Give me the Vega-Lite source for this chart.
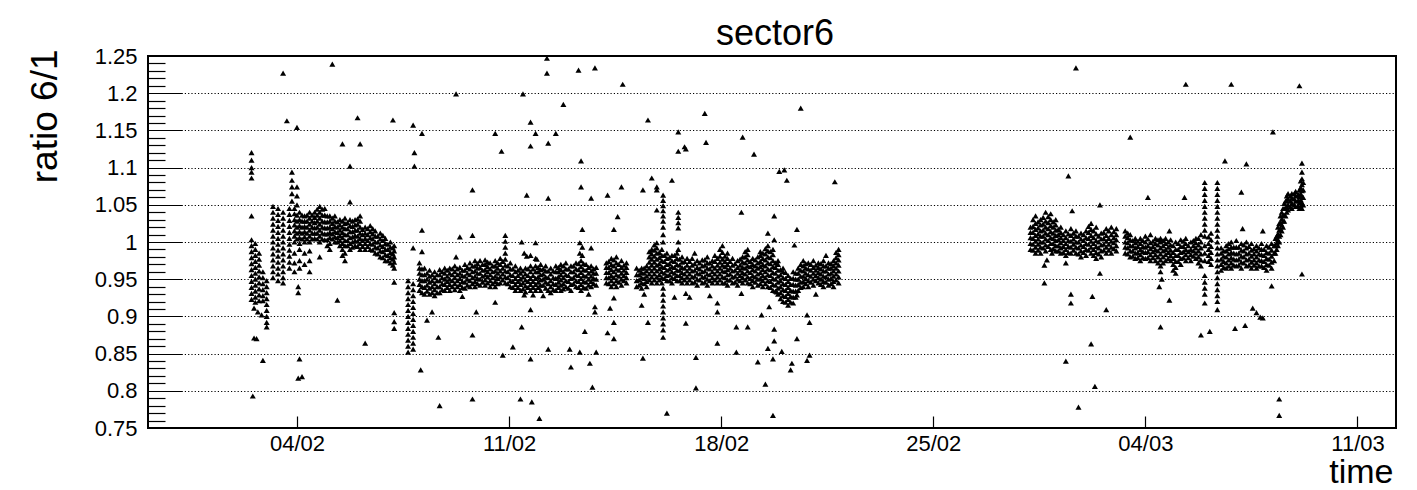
{
"$schema": "https://vega.github.io/schema/vega-lite/v6.json",
"width": 1248, "height": 372,
"autosize": {"type": "none"},
"padding": {"left": 148, "top": 56, "right": 21, "bottom": 62},
"background": "white",
"config": {"view": {"stroke": "black", "strokeWidth": 2}, "font": "Liberation Sans"},
"title": {"text": "sector6", "fontSize": 36, "fontWeight": "normal", "font": "Liberation Sans", "color": "black", "anchor": "middle", "frame": "group", "baseline": "alphabetic", "offset": -36, "dx": 3},
"data": {"format": {"parse": {"t": "date:'%j%H'"}}, "values": [
{"t":"03312","r":1.12},{"t":"03312","r":1.11},{"t":"03312","r":1.1},{"t":"03312","r":1.094},{"t":"03312","r":1.086},{"t":"03312","r":1.035},{"t":"03312","r":1.003},{"t":"03312","r":0.995},{"t":"03312","r":0.987},{"t":"03312","r":0.979},{"t":"03312","r":0.971},{"t":"03312","r":0.963},{"t":"03312","r":0.955},{"t":"03312","r":0.947},{"t":"03312","r":0.939},{"t":"03312","r":0.931},{"t":"03312","r":0.923},
{"t":"03313","r":0.793},{"t":"03314","r":0.911},{"t":"03314","r":0.871},
{"t":"03315","r":0.998},{"t":"03315","r":0.99},{"t":"03315","r":0.982},{"t":"03315","r":0.974},{"t":"03315","r":0.966},{"t":"03315","r":0.958},{"t":"03315","r":0.95},{"t":"03315","r":0.942},{"t":"03315","r":0.934},{"t":"03315","r":0.926},{"t":"03315","r":0.919},
{"t":"03316","r":0.87},{"t":"03317","r":0.906},
{"t":"03318","r":0.985},{"t":"03318","r":0.977},{"t":"03318","r":0.969},{"t":"03318","r":0.961},{"t":"03318","r":0.953},{"t":"03318","r":0.945},{"t":"03318","r":0.937},{"t":"03318","r":0.929},{"t":"03318","r":0.921},
{"t":"03320","r":0.902},
{"t":"03321","r":0.96},{"t":"03321","r":0.952},{"t":"03321","r":0.944},{"t":"03321","r":0.936},{"t":"03321","r":0.928},{"t":"03321","r":0.921},{"t":"03321","r":0.841},
{"t":"03400","r":0.948},{"t":"03400","r":0.94},{"t":"03400","r":0.932},{"t":"03400","r":0.924},{"t":"03400","r":0.916},{"t":"03400","r":0.908},{"t":"03400","r":0.9},{"t":"03400","r":0.892},{"t":"03400","r":0.886},
{"t":"03405","r":1.048},{"t":"03405","r":1.04},{"t":"03405","r":1.032},{"t":"03405","r":1.024},{"t":"03405","r":1.016},{"t":"03405","r":1.008},{"t":"03405","r":1.0},{"t":"03405","r":0.992},{"t":"03405","r":0.984},{"t":"03405","r":0.976},{"t":"03405","r":0.968},{"t":"03405","r":0.96},{"t":"03405","r":0.952},
{"t":"03409","r":1.045},{"t":"03409","r":1.037},{"t":"03409","r":1.029},{"t":"03409","r":1.021},{"t":"03409","r":1.013},{"t":"03409","r":1.005},{"t":"03409","r":0.997},{"t":"03409","r":0.989},{"t":"03409","r":0.981},{"t":"03409","r":0.973},{"t":"03409","r":0.965},{"t":"03409","r":0.957},{"t":"03409","r":0.948},
{"t":"03413","r":1.227},{"t":"03413","r":1.04},{"t":"03413","r":1.032},{"t":"03413","r":1.024},{"t":"03413","r":1.016},{"t":"03413","r":1.008},{"t":"03413","r":1.0},{"t":"03413","r":0.992},{"t":"03413","r":0.984},{"t":"03413","r":0.976},{"t":"03413","r":0.968},{"t":"03413","r":0.96},{"t":"03413","r":0.952},{"t":"03413","r":0.945},
{"t":"03416","r":1.163},
{"t":"03418","r":1.045},{"t":"03418","r":1.037},{"t":"03418","r":1.029},{"t":"03418","r":1.021},{"t":"03418","r":1.013},{"t":"03418","r":1.005},{"t":"03418","r":0.997},{"t":"03418","r":0.989},{"t":"03418","r":0.981},{"t":"03418","r":0.973},{"t":"03418","r":0.965},
{"t":"03420","r":1.094},{"t":"03420","r":1.083},{"t":"03420","r":1.074},{"t":"03420","r":1.065},{"t":"03420","r":1.055},
{"t":"03422","r":1.0},{"t":"03422","r":1.008},{"t":"03422","r":1.015},{"t":"03422","r":1.023},{"t":"03422","r":1.03},{"t":"03422","r":1.038},{"t":"03422","r":1.045},{"t":"03422","r":0.985},{"t":"03422","r":0.972},{"t":"03422","r":0.96},
{"t":"03500","r":1.154},{"t":"03500","r":1.074},{"t":"03500","r":1.062},{"t":"03500","r":1.05},
{"t":"03501","r":0.94},{"t":"03501","r":0.932},{"t":"03501","r":0.817},
{"t":"03502","r":0.99},{"t":"03502","r":0.998},{"t":"03502","r":1.006},{"t":"03502","r":1.014},{"t":"03502","r":1.022},{"t":"03502","r":1.03},{"t":"03502","r":1.04},{"t":"03502","r":0.975},{"t":"03502","r":0.965},{"t":"03502","r":0.843},
{"t":"03504","r":0.819},
{"t":"03506","r":1.0},{"t":"03506","r":1.007},{"t":"03506","r":1.014},{"t":"03506","r":1.021},{"t":"03506","r":1.028},{"t":"03506","r":1.035},{"t":"03506","r":0.985},{"t":"03506","r":0.97},
{"t":"03510","r":1.0},{"t":"03510","r":1.008},{"t":"03510","r":1.016},{"t":"03510","r":1.024},{"t":"03510","r":1.032},{"t":"03510","r":1.04},{"t":"03510","r":0.988},{"t":"03510","r":0.975},{"t":"03510","r":0.96},
{"t":"03514","r":1.005},{"t":"03514","r":1.012},{"t":"03514","r":1.019},{"t":"03514","r":1.026},{"t":"03514","r":1.033},{"t":"03514","r":1.04},
{"t":"03518","r":1.0},{"t":"03518","r":1.008},{"t":"03518","r":1.016},{"t":"03518","r":1.024},{"t":"03518","r":1.032},{"t":"03518","r":1.04},{"t":"03518","r":1.048},{"t":"03518","r":0.98},
{"t":"03522","r":1.003},{"t":"03522","r":1.011},{"t":"03522","r":1.019},{"t":"03522","r":1.027},{"t":"03522","r":1.036},{"t":"03522","r":1.045},
{"t":"03602","r":0.99},{"t":"03602","r":0.998},{"t":"03602","r":1.006},{"t":"03602","r":1.013},{"t":"03602","r":1.02},{"t":"03602","r":1.028},{"t":"03602","r":1.035},
{"t":"03604","r":1.239},
{"t":"03606","r":1.0},{"t":"03606","r":1.007},{"t":"03606","r":1.014},{"t":"03606","r":1.021},{"t":"03606","r":1.028},{"t":"03606","r":1.035},
{"t":"03608","r":0.922},
{"t":"03610","r":0.995},{"t":"03610","r":1.002},{"t":"03610","r":1.009},{"t":"03610","r":1.016},{"t":"03610","r":1.023},{"t":"03610","r":1.03},
{"t":"03612","r":1.132},{"t":"03612","r":0.982},
{"t":"03614","r":0.975},{"t":"03614","r":0.985},{"t":"03614","r":0.995},{"t":"03614","r":1.002},{"t":"03614","r":1.01},{"t":"03614","r":1.018},{"t":"03614","r":1.025},{"t":"03614","r":1.032},
{"t":"03618","r":1.102},{"t":"03618","r":1.054},{"t":"03618","r":0.99},{"t":"03618","r":0.998},{"t":"03618","r":1.006},{"t":"03618","r":1.014},{"t":"03618","r":1.022},{"t":"03618","r":1.03},
{"t":"03622","r":0.995},{"t":"03622","r":1.002},{"t":"03622","r":1.009},{"t":"03622","r":1.016},{"t":"03622","r":1.023},{"t":"03622","r":1.03},
{"t":"03700","r":1.167},
{"t":"03702","r":1.132},{"t":"03702","r":0.99},{"t":"03702","r":0.998},{"t":"03702","r":1.005},{"t":"03702","r":1.012},{"t":"03702","r":1.02},{"t":"03702","r":1.028},{"t":"03702","r":1.035},
{"t":"03706","r":0.864},{"t":"03706","r":0.99},{"t":"03706","r":0.998},{"t":"03706","r":1.005},{"t":"03706","r":1.012},{"t":"03706","r":1.02},
{"t":"03710","r":0.99},{"t":"03710","r":0.998},{"t":"03710","r":1.006},{"t":"03710","r":1.014},{"t":"03710","r":1.022},
{"t":"03714","r":0.985},{"t":"03714","r":0.993},{"t":"03714","r":1.0},{"t":"03714","r":1.008},{"t":"03714","r":1.015},
{"t":"03718","r":0.98},{"t":"03718","r":0.988},{"t":"03718","r":0.996},{"t":"03718","r":1.004},{"t":"03718","r":1.012},
{"t":"03722","r":0.975},{"t":"03722","r":0.983},{"t":"03722","r":0.99},{"t":"03722","r":0.998},{"t":"03722","r":1.005},
{"t":"03802","r":0.972},{"t":"03802","r":0.979},{"t":"03802","r":0.986},{"t":"03802","r":0.993},{"t":"03802","r":1.0},
{"t":"03804","r":1.164},
{"t":"03805","r":0.965},{"t":"03805","r":0.973},{"t":"03805","r":0.98},{"t":"03805","r":0.988},{"t":"03805","r":0.995},{"t":"03805","r":0.946},{"t":"03805","r":0.905},{"t":"03805","r":0.893},{"t":"03805","r":0.884},
{"t":"03816","r":0.948},{"t":"03816","r":0.94},{"t":"03816","r":0.932},{"t":"03816","r":0.924},{"t":"03816","r":0.916},{"t":"03816","r":0.908},{"t":"03816","r":0.9},{"t":"03816","r":0.892},{"t":"03816","r":0.884},{"t":"03816","r":0.876},{"t":"03816","r":0.868},{"t":"03816","r":0.86},{"t":"03816","r":0.852},
{"t":"03820","r":1.157},{"t":"03820","r":0.992},{"t":"03820","r":0.944},{"t":"03820","r":0.936},{"t":"03820","r":0.928},{"t":"03820","r":0.92},{"t":"03820","r":0.912},{"t":"03820","r":0.904},{"t":"03820","r":0.896},{"t":"03820","r":0.888},{"t":"03820","r":0.88},{"t":"03820","r":0.872},{"t":"03820","r":0.864},{"t":"03820","r":0.856},
{"t":"03821","r":1.12},{"t":"03821","r":1.102},
{"t":"03902","r":0.828},{"t":"03903","r":1.146},{"t":"03903","r":1.016},{"t":"03903","r":0.987},{"t":"03907","r":0.895},{"t":"03911","r":0.906},{"t":"03916","r":0.872},{"t":"03917","r":0.78},
{"t":"03901","r":0.935},{"t":"03901","r":0.943},{"t":"03901","r":0.95},{"t":"03901","r":0.958},{"t":"03901","r":0.965},{"t":"03901","r":0.972},
{"t":"03905","r":0.93},{"t":"03905","r":0.939},{"t":"03905","r":0.948},{"t":"03905","r":0.956},{"t":"03905","r":0.965},
{"t":"03909","r":0.93},{"t":"03909","r":0.938},{"t":"03909","r":0.946},{"t":"03909","r":0.954},{"t":"03909","r":0.962},
{"t":"03913","r":0.928},{"t":"03913","r":0.936},{"t":"03913","r":0.944},{"t":"03913","r":0.952},{"t":"03913","r":0.96},
{"t":"03917","r":0.932},{"t":"03917","r":0.94},{"t":"03917","r":0.948},{"t":"03917","r":0.956},{"t":"03917","r":0.963},
{"t":"03921","r":0.935},{"t":"03921","r":0.943},{"t":"03921","r":0.95},{"t":"03921","r":0.958},{"t":"03921","r":0.965},
{"t":"04001","r":0.935},{"t":"04001","r":0.943},{"t":"04001","r":0.95},{"t":"04001","r":0.958},{"t":"04001","r":0.965},
{"t":"04005","r":0.936},{"t":"04005","r":0.944},{"t":"04005","r":0.952},{"t":"04005","r":0.96},{"t":"04005","r":0.968},
{"t":"04006","r":1.199},{"t":"04006","r":0.98},
{"t":"04009","r":0.935},{"t":"04009","r":0.943},{"t":"04009","r":0.951},{"t":"04009","r":0.958},{"t":"04009","r":0.966},{"t":"04009","r":1.007},
{"t":"04011","r":0.927},
{"t":"04013","r":0.938},{"t":"04013","r":0.946},{"t":"04013","r":0.954},{"t":"04013","r":0.962},{"t":"04013","r":0.97},
{"t":"04017","r":0.94},{"t":"04017","r":0.948},{"t":"04017","r":0.956},{"t":"04017","r":0.964},{"t":"04017","r":0.972},
{"t":"04019","r":0.789},{"t":"04019","r":1.009},{"t":"04019","r":1.07},{"t":"04019","r":0.875},
{"t":"04021","r":0.94},{"t":"04021","r":0.947},{"t":"04021","r":0.954},{"t":"04021","r":0.961},{"t":"04021","r":0.968},{"t":"04021","r":0.975},
{"t":"04022","r":0.906},
{"t":"04101","r":0.942},{"t":"04101","r":0.95},{"t":"04101","r":0.958},{"t":"04101","r":0.966},{"t":"04101","r":0.975},
{"t":"04105","r":0.942},{"t":"04105","r":0.949},{"t":"04105","r":0.956},{"t":"04105","r":0.963},{"t":"04105","r":0.97},{"t":"04105","r":0.976},
{"t":"04109","r":0.94},{"t":"04109","r":0.948},{"t":"04109","r":0.956},{"t":"04109","r":0.964},{"t":"04109","r":0.972},
{"t":"04113","r":0.94},{"t":"04113","r":0.947},{"t":"04113","r":0.954},{"t":"04113","r":0.961},{"t":"04113","r":0.968},{"t":"04113","r":0.975},{"t":"04113","r":1.146},{"t":"04113","r":0.919},
{"t":"04117","r":0.945},{"t":"04117","r":0.953},{"t":"04117","r":0.961},{"t":"04117","r":0.97},{"t":"04117","r":0.978},
{"t":"04118","r":1.122},{"t":"04119","r":0.848},
{"t":"04121","r":0.945},{"t":"04121","r":0.953},{"t":"04121","r":0.961},{"t":"04121","r":0.969},{"t":"04121","r":0.977},{"t":"04121","r":0.985},{"t":"04121","r":0.993},{"t":"04121","r":1.001},{"t":"04121","r":1.009},
{"t":"04201","r":0.94},{"t":"04201","r":0.948},{"t":"04201","r":0.956},{"t":"04201","r":0.964},{"t":"04201","r":0.972},
{"t":"04203","r":0.859},
{"t":"04205","r":0.935},{"t":"04205","r":0.943},{"t":"04205","r":0.951},{"t":"04205","r":0.96},{"t":"04205","r":0.968},
{"t":"04209","r":0.935},{"t":"04209","r":0.943},{"t":"04209","r":0.95},{"t":"04209","r":0.958},{"t":"04209","r":0.965},{"t":"04209","r":0.789},
{"t":"04210","r":0.886},{"t":"04210","r":1.0},{"t":"04211","r":1.199},{"t":"04212","r":0.985},{"t":"04212","r":0.929},
{"t":"04213","r":0.933},{"t":"04213","r":0.941},{"t":"04213","r":0.949},{"t":"04213","r":0.957},{"t":"04213","r":0.965},
{"t":"04214","r":1.063},{"t":"04214","r":0.981},
{"t":"04217","r":0.935},{"t":"04217","r":0.943},{"t":"04217","r":0.951},{"t":"04217","r":0.96},{"t":"04217","r":0.968},{"t":"04217","r":1.161},{"t":"04217","r":1.129},{"t":"04217","r":0.909},{"t":"04217","r":0.843},{"t":"04217","r":0.982},
{"t":"04218","r":0.785},{"t":"04219","r":0.929},
{"t":"04221","r":0.935},{"t":"04221","r":0.943},{"t":"04221","r":0.951},{"t":"04221","r":0.96},{"t":"04221","r":0.968},{"t":"04221","r":1.146},{"t":"04221","r":0.999},{"t":"04221","r":0.978},
{"t":"04222","r":0.977},
{"t":"04300","r":0.763},
{"t":"04301","r":0.935},{"t":"04301","r":0.942},{"t":"04301","r":0.949},{"t":"04301","r":0.956},{"t":"04301","r":0.963},{"t":"04301","r":0.97},
{"t":"04303","r":0.928},
{"t":"04305","r":0.938},{"t":"04305","r":0.946},{"t":"04305","r":0.953},{"t":"04305","r":0.961},{"t":"04305","r":0.968},
{"t":"04306","r":1.247},{"t":"04306","r":1.227},
{"t":"04307","r":1.133},{"t":"04307","r":1.059},{"t":"04307","r":0.856},
{"t":"04309","r":0.932},{"t":"04309","r":0.94},{"t":"04309","r":0.948},{"t":"04309","r":0.957},{"t":"04309","r":0.965},
{"t":"04313","r":0.935},{"t":"04313","r":0.943},{"t":"04313","r":0.951},{"t":"04313","r":0.96},{"t":"04313","r":0.968},{"t":"04313","r":1.146},
{"t":"04317","r":0.935},{"t":"04317","r":0.942},{"t":"04317","r":0.949},{"t":"04317","r":0.956},{"t":"04317","r":0.963},{"t":"04317","r":0.97},
{"t":"04319","r":1.185},
{"t":"04321","r":0.94},{"t":"04321","r":0.948},{"t":"04321","r":0.956},{"t":"04321","r":0.964},{"t":"04321","r":0.972},
{"t":"04400","r":0.856},
{"t":"04401","r":0.935},{"t":"04401","r":0.943},{"t":"04401","r":0.951},{"t":"04401","r":0.96},{"t":"04401","r":0.968},{"t":"04401","r":0.832},
{"t":"04405","r":0.94},{"t":"04405","r":0.948},{"t":"04405","r":0.956},{"t":"04405","r":0.964},{"t":"04405","r":0.972},
{"t":"04407","r":1.231},
{"t":"04408","r":0.999},{"t":"04408","r":0.985},{"t":"04408","r":0.852},
{"t":"04409","r":0.935},{"t":"04409","r":0.943},{"t":"04409","r":0.951},{"t":"04409","r":0.959},{"t":"04409","r":0.967},{"t":"04409","r":0.975},{"t":"04409","r":1.109},{"t":"04409","r":1.074},
{"t":"04410","r":1.017},{"t":"04410","r":0.993},{"t":"04410","r":0.982},
{"t":"04412","r":0.88},
{"t":"04413","r":0.938},{"t":"04413","r":0.946},{"t":"04413","r":0.954},{"t":"04413","r":0.962},{"t":"04413","r":0.97},
{"t":"04415","r":0.93},{"t":"04416","r":0.837},
{"t":"04417","r":0.94},{"t":"04417","r":0.947},{"t":"04417","r":0.954},{"t":"04417","r":0.961},{"t":"04417","r":0.968},{"t":"04417","r":1.059},{"t":"04417","r":0.992},
{"t":"04418","r":0.805},
{"t":"04420","r":1.234},{"t":"04420","r":0.913},{"t":"04420","r":0.906},
{"t":"04421","r":0.942},{"t":"04421","r":0.95},{"t":"04421","r":0.958},{"t":"04421","r":0.966},{"t":"04421","r":0.852},
{"t":"04505","r":0.945},{"t":"04505","r":0.952},{"t":"04505","r":0.959},{"t":"04505","r":0.966},{"t":"04505","r":0.972},
{"t":"04506","r":1.063},{"t":"04506","r":0.878},
{"t":"04508","r":0.911},
{"t":"04509","r":0.94},{"t":"04509","r":0.948},{"t":"04509","r":0.955},{"t":"04509","r":0.963},{"t":"04509","r":0.97},{"t":"04509","r":0.978},
{"t":"04511","r":1.017},{"t":"04511","r":0.925},{"t":"04511","r":0.892},{"t":"04511","r":0.87},
{"t":"04513","r":0.94},{"t":"04513","r":0.948},{"t":"04513","r":0.956},{"t":"04513","r":0.964},{"t":"04513","r":0.972},{"t":"04513","r":0.98},
{"t":"04514","r":1.034},
{"t":"04517","r":0.942},{"t":"04517","r":0.95},{"t":"04517","r":0.958},{"t":"04517","r":0.966},{"t":"04517","r":0.975},{"t":"04517","r":1.074},
{"t":"04518","r":1.212},
{"t":"04521","r":0.945},{"t":"04521","r":0.952},{"t":"04521","r":0.959},{"t":"04521","r":0.966},{"t":"04521","r":0.972},
{"t":"04605","r":0.94},{"t":"04605","r":0.948},{"t":"04605","r":0.956},{"t":"04605","r":0.965},
{"t":"04609","r":0.938},{"t":"04609","r":0.945},{"t":"04609","r":0.952},{"t":"04609","r":0.959},{"t":"04609","r":0.965},{"t":"04609","r":0.915},
{"t":"04610","r":1.07},{"t":"04610","r":0.844},{"t":"04611","r":0.93},
{"t":"04613","r":0.94},{"t":"04613","r":0.947},{"t":"04613","r":0.954},{"t":"04613","r":0.961},{"t":"04613","r":0.968},
{"t":"04614","r":1.164},{"t":"04614","r":0.892},
{"t":"04617","r":0.945},{"t":"04617","r":0.953},{"t":"04617","r":0.961},{"t":"04617","r":0.969},{"t":"04617","r":0.977},{"t":"04617","r":0.984},{"t":"04617","r":0.99},{"t":"04617","r":1.086},
{"t":"04621","r":0.945},{"t":"04621","r":0.953},{"t":"04621","r":0.961},{"t":"04621","r":0.969},{"t":"04621","r":0.977},{"t":"04621","r":0.985},{"t":"04621","r":0.992},{"t":"04621","r":0.999},{"t":"04621","r":1.074},{"t":"04621","r":1.07},{"t":"04621","r":1.043},
{"t":"04701","r":0.945},{"t":"04701","r":0.952},{"t":"04701","r":0.96},{"t":"04701","r":0.967},{"t":"04701","r":0.975},{"t":"04701","r":0.982},{"t":"04701","r":0.99},
{"t":"04702","r":1.063},{"t":"04702","r":1.056},{"t":"04702","r":1.049},{"t":"04702","r":1.042},{"t":"04702","r":1.035},{"t":"04702","r":1.028},{"t":"04702","r":1.02},{"t":"04702","r":1.01},{"t":"04702","r":1.0},{"t":"04702","r":0.938},{"t":"04702","r":0.93},{"t":"04702","r":0.922},{"t":"04702","r":0.914},{"t":"04702","r":0.906},{"t":"04702","r":0.898},{"t":"04702","r":0.89},{"t":"04702","r":0.882},{"t":"04702","r":0.872},
{"t":"04705","r":0.948},{"t":"04705","r":0.955},{"t":"04705","r":0.962},{"t":"04705","r":0.97},{"t":"04705","r":0.978},{"t":"04705","r":0.985},{"t":"04705","r":0.77},
{"t":"04709","r":0.945},{"t":"04709","r":0.952},{"t":"04709","r":0.96},{"t":"04709","r":0.967},{"t":"04709","r":0.975},{"t":"04709","r":0.982},{"t":"04709","r":1.083},
{"t":"04711","r":0.926},
{"t":"04713","r":0.948},{"t":"04713","r":0.955},{"t":"04713","r":0.962},{"t":"04713","r":0.97},{"t":"04713","r":0.978},{"t":"04713","r":0.985},
{"t":"04714","r":1.148},{"t":"04714","r":1.122},{"t":"04714","r":1.04},{"t":"04714","r":1.033},{"t":"04714","r":1.026},{"t":"04714","r":1.019},{"t":"04714","r":1.0},{"t":"04714","r":0.99},
{"t":"04717","r":0.945},{"t":"04717","r":0.952},{"t":"04717","r":0.959},{"t":"04717","r":0.966},{"t":"04717","r":0.973},{"t":"04717","r":0.98},
{"t":"04719","r":1.128},{"t":"04720","r":1.125},{"t":"04720","r":0.931},{"t":"04720","r":0.891},
{"t":"04721","r":0.945},{"t":"04721","r":0.953},{"t":"04721","r":0.961},{"t":"04721","r":0.969},{"t":"04721","r":0.978},
{"t":"04723","r":0.926},
{"t":"04801","r":0.945},{"t":"04801","r":0.953},{"t":"04801","r":0.961},{"t":"04801","r":0.969},{"t":"04801","r":0.978},
{"t":"04803","r":0.985},{"t":"04804","r":0.845},{"t":"04804","r":0.804},
{"t":"04805","r":0.942},{"t":"04805","r":0.95},{"t":"04805","r":0.958},{"t":"04805","r":0.966},{"t":"04805","r":0.975},
{"t":"04809","r":0.945},{"t":"04809","r":0.953},{"t":"04809","r":0.96},{"t":"04809","r":0.968},{"t":"04809","r":0.976},
{"t":"04811","r":1.173},{"t":"04812","r":1.134},
{"t":"04813","r":0.942},{"t":"04813","r":0.95},{"t":"04813","r":0.957},{"t":"04813","r":0.965},{"t":"04813","r":0.972},{"t":"04813","r":0.98},
{"t":"04815","r":0.928},
{"t":"04817","r":0.945},{"t":"04817","r":0.952},{"t":"04817","r":0.96},{"t":"04817","r":0.968},{"t":"04817","r":0.975},
{"t":"04819","r":0.982},
{"t":"04821","r":0.945},{"t":"04821","r":0.953},{"t":"04821","r":0.961},{"t":"04821","r":0.969},{"t":"04821","r":0.978},{"t":"04821","r":0.918},{"t":"04821","r":0.906},{"t":"04821","r":0.864},
{"t":"04901","r":0.945},{"t":"04901","r":0.953},{"t":"04901","r":0.961},{"t":"04901","r":0.969},{"t":"04901","r":0.977},{"t":"04901","r":0.986},{"t":"04901","r":0.995},
{"t":"04905","r":0.942},{"t":"04905","r":0.949},{"t":"04905","r":0.956},{"t":"04905","r":0.963},{"t":"04905","r":0.97},{"t":"04905","r":0.978},{"t":"04905","r":0.985},
{"t":"04909","r":0.945},{"t":"04909","r":0.953},{"t":"04909","r":0.961},{"t":"04909","r":0.969},{"t":"04909","r":0.978},
{"t":"04912","r":0.886},{"t":"04912","r":0.852},
{"t":"04913","r":0.942},{"t":"04913","r":0.95},{"t":"04913","r":0.958},{"t":"04913","r":0.966},{"t":"04913","r":0.975},
{"t":"04916","r":1.04},{"t":"04916","r":0.931},
{"t":"04917","r":0.945},{"t":"04917","r":0.952},{"t":"04917","r":0.959},{"t":"04917","r":0.966},{"t":"04917","r":0.973},{"t":"04917","r":0.98},{"t":"04917","r":1.141},
{"t":"04921","r":0.945},{"t":"04921","r":0.953},{"t":"04921","r":0.961},{"t":"04921","r":0.968},{"t":"04921","r":0.976},{"t":"04921","r":0.983},{"t":"04921","r":0.99},{"t":"04921","r":0.886},
{"t":"05001","r":0.94},{"t":"05001","r":0.948},{"t":"05001","r":0.955},{"t":"05001","r":0.963},{"t":"05001","r":0.97},{"t":"05001","r":0.978},
{"t":"05002","r":1.118},
{"t":"05005","r":0.942},{"t":"05005","r":0.95},{"t":"05005","r":0.957},{"t":"05005","r":0.965},{"t":"05005","r":0.972},{"t":"05005","r":0.98},{"t":"05005","r":0.839},
{"t":"05007","r":0.987},{"t":"05008","r":0.902},
{"t":"05009","r":0.94},{"t":"05009","r":0.948},{"t":"05009","r":0.955},{"t":"05009","r":0.963},{"t":"05009","r":0.97},{"t":"05009","r":0.978},{"t":"05009","r":0.985},
{"t":"05011","r":0.809},
{"t":"05013","r":0.94},{"t":"05013","r":0.948},{"t":"05013","r":0.956},{"t":"05013","r":0.964},{"t":"05013","r":0.972},{"t":"05013","r":0.98},{"t":"05013","r":0.988},{"t":"05013","r":0.995},{"t":"05013","r":1.012},{"t":"05013","r":0.857},
{"t":"05014","r":0.913},
{"t":"05017","r":0.935},{"t":"05017","r":0.943},{"t":"05017","r":0.951},{"t":"05017","r":0.959},{"t":"05017","r":0.967},{"t":"05017","r":0.975},{"t":"05017","r":0.983},{"t":"05017","r":0.99},{"t":"05017","r":0.843},{"t":"05017","r":0.767},
{"t":"05018","r":1.035},{"t":"05018","r":1.003},{"t":"05018","r":0.883},{"t":"05018","r":0.867},
{"t":"05020","r":0.933},
{"t":"05021","r":0.93},{"t":"05021","r":0.938},{"t":"05021","r":0.946},{"t":"05021","r":0.954},{"t":"05021","r":0.962},{"t":"05021","r":0.97},{"t":"05021","r":0.975},
{"t":"05022","r":1.095},
{"t":"05100","r":0.853},
{"t":"05101","r":0.92},{"t":"05101","r":0.928},{"t":"05101","r":0.936},{"t":"05101","r":0.944},{"t":"05101","r":0.952},{"t":"05101","r":0.96},{"t":"05101","r":0.965},
{"t":"05102","r":1.097},{"t":"05104","r":1.083},
{"t":"05105","r":0.915},{"t":"05105","r":0.923},{"t":"05105","r":0.931},{"t":"05105","r":0.939},{"t":"05105","r":0.947},{"t":"05105","r":0.955},
{"t":"05107","r":0.828},{"t":"05108","r":0.837},
{"t":"05109","r":0.918},{"t":"05109","r":0.926},{"t":"05109","r":0.934},{"t":"05109","r":0.943},{"t":"05109","r":0.951},{"t":"05109","r":0.96},
{"t":"05110","r":0.996},
{"t":"05112","r":1.017},{"t":"05112","r":0.929},{"t":"05112","r":0.87},
{"t":"05113","r":0.935},{"t":"05113","r":0.943},{"t":"05113","r":0.95},{"t":"05113","r":0.958},{"t":"05113","r":0.965},
{"t":"05115","r":1.18},
{"t":"05117","r":0.94},{"t":"05117","r":0.947},{"t":"05117","r":0.954},{"t":"05117","r":0.961},{"t":"05117","r":0.968},{"t":"05117","r":0.975},
{"t":"05120","r":0.902},{"t":"05120","r":0.841},
{"t":"05121","r":0.94},{"t":"05121","r":0.948},{"t":"05121","r":0.956},{"t":"05121","r":0.964},{"t":"05121","r":0.972},
{"t":"05122","r":0.892},{"t":"05122","r":0.848},
{"t":"05201","r":0.942},{"t":"05201","r":0.95},{"t":"05201","r":0.958},{"t":"05201","r":0.966},{"t":"05201","r":0.975},
{"t":"05203","r":0.93},
{"t":"05205","r":0.945},{"t":"05205","r":0.952},{"t":"05205","r":0.959},{"t":"05205","r":0.966},{"t":"05205","r":0.972},
{"t":"05209","r":0.94},{"t":"05209","r":0.947},{"t":"05209","r":0.954},{"t":"05209","r":0.961},{"t":"05209","r":0.968},{"t":"05209","r":0.975},
{"t":"05211","r":0.982},
{"t":"05213","r":0.942},{"t":"05213","r":0.95},{"t":"05213","r":0.957},{"t":"05213","r":0.965},{"t":"05213","r":0.972},
{"t":"05217","r":0.94},{"t":"05217","r":0.947},{"t":"05217","r":0.954},{"t":"05217","r":0.961},{"t":"05217","r":0.968},{"t":"05217","r":0.975},
{"t":"05218","r":1.081},
{"t":"05221","r":0.945},{"t":"05221","r":0.953},{"t":"05221","r":0.961},{"t":"05221","r":0.969},{"t":"05221","r":0.976},{"t":"05221","r":0.983},{"t":"05221","r":0.99},
{"t":"05905","r":0.99},{"t":"05905","r":0.998},{"t":"05905","r":1.006},{"t":"05905","r":1.013},{"t":"05905","r":1.02},
{"t":"05909","r":0.985},{"t":"05909","r":0.993},{"t":"05909","r":1.001},{"t":"05909","r":1.009},{"t":"05909","r":1.017},{"t":"05909","r":1.025},{"t":"05909","r":1.035},
{"t":"05913","r":0.985},{"t":"05913","r":0.993},{"t":"05913","r":1.0},{"t":"05913","r":1.008},{"t":"05913","r":1.015},{"t":"05913","r":1.023},{"t":"05913","r":1.03},
{"t":"05916","r":0.969},{"t":"05916","r":0.945},
{"t":"05917","r":0.988},{"t":"05917","r":0.996},{"t":"05917","r":1.004},{"t":"05917","r":1.012},{"t":"05917","r":1.02},{"t":"05917","r":1.028},{"t":"05917","r":1.04},
{"t":"05918","r":0.976},
{"t":"05921","r":0.99},{"t":"05921","r":0.998},{"t":"05921","r":1.006},{"t":"05921","r":1.014},{"t":"05921","r":1.022},{"t":"05921","r":1.03},{"t":"05921","r":1.038},
{"t":"05922","r":0.985},
{"t":"06001","r":0.988},{"t":"06001","r":0.995},{"t":"06001","r":1.002},{"t":"06001","r":1.009},{"t":"06001","r":1.016},{"t":"06001","r":1.023},{"t":"06001","r":1.03},
{"t":"06005","r":0.985},{"t":"06005","r":0.992},{"t":"06005","r":0.999},{"t":"06005","r":1.006},{"t":"06005","r":1.013},{"t":"06005","r":1.02},
{"t":"06009","r":0.982},{"t":"06009","r":0.99},{"t":"06009","r":0.998},{"t":"06009","r":1.006},{"t":"06009","r":1.015},{"t":"06009","r":0.972},{"t":"06009","r":0.84},
{"t":"06011","r":1.089},
{"t":"06013","r":0.985},{"t":"06013","r":0.993},{"t":"06013","r":1.001},{"t":"06013","r":1.009},{"t":"06013","r":1.018},{"t":"06013","r":0.93},{"t":"06013","r":0.918},
{"t":"06014","r":1.042},
{"t":"06017","r":0.985},{"t":"06017","r":0.993},{"t":"06017","r":1.0},{"t":"06017","r":1.008},{"t":"06017","r":1.015},{"t":"06017","r":1.234},
{"t":"06019","r":0.778},
{"t":"06021","r":0.98},{"t":"06021","r":0.988},{"t":"06021","r":0.996},{"t":"06021","r":1.004},{"t":"06021","r":1.012},
{"t":"06101","r":0.982},{"t":"06101","r":0.99},{"t":"06101","r":0.998},{"t":"06101","r":1.006},{"t":"06101","r":1.015},
{"t":"06105","r":0.985},{"t":"06105","r":0.993},{"t":"06105","r":1.001},{"t":"06105","r":1.009},{"t":"06105","r":1.017},{"t":"06105","r":1.025},{"t":"06105","r":0.863},
{"t":"06106","r":0.927},{"t":"06108","r":0.806},
{"t":"06109","r":0.978},{"t":"06109","r":0.986},{"t":"06109","r":0.994},{"t":"06109","r":1.002},{"t":"06109","r":1.011},{"t":"06109","r":1.02},
{"t":"06112","r":1.05},{"t":"06112","r":0.958},
{"t":"06113","r":0.98},{"t":"06113","r":0.988},{"t":"06113","r":0.996},{"t":"06113","r":1.004},{"t":"06113","r":1.012},
{"t":"06117","r":0.985},{"t":"06117","r":0.993},{"t":"06117","r":1.001},{"t":"06117","r":1.009},{"t":"06117","r":1.018},{"t":"06117","r":0.909},
{"t":"06121","r":0.985},{"t":"06121","r":0.993},{"t":"06121","r":1.001},{"t":"06121","r":1.01},{"t":"06121","r":1.02},
{"t":"06201","r":0.988},{"t":"06201","r":0.995},{"t":"06201","r":1.003},{"t":"06201","r":1.01},{"t":"06201","r":1.018},
{"t":"06208","r":0.985},{"t":"06208","r":0.993},{"t":"06208","r":1.0},{"t":"06208","r":1.008},{"t":"06208","r":1.015},
{"t":"06212","r":0.98},{"t":"06212","r":0.988},{"t":"06212","r":0.995},{"t":"06212","r":1.003},{"t":"06212","r":1.01},{"t":"06212","r":1.141},
{"t":"06216","r":0.978},{"t":"06216","r":0.985},{"t":"06216","r":0.992},{"t":"06216","r":0.999},{"t":"06216","r":1.005},
{"t":"06220","r":0.975},{"t":"06220","r":0.983},{"t":"06220","r":0.99},{"t":"06220","r":0.998},{"t":"06220","r":1.005},
{"t":"06300","r":0.978},{"t":"06300","r":0.986},{"t":"06300","r":0.993},{"t":"06300","r":1.0},{"t":"06300","r":1.008},
{"t":"06302","r":1.06},
{"t":"06304","r":0.975},{"t":"06304","r":0.983},{"t":"06304","r":0.991},{"t":"06304","r":0.999},{"t":"06304","r":1.01},
{"t":"06308","r":0.975},{"t":"06308","r":0.983},{"t":"06308","r":0.99},{"t":"06308","r":0.998},{"t":"06308","r":1.005},
{"t":"06311","r":0.94},
{"t":"06312","r":0.96},{"t":"06312","r":0.968},{"t":"06312","r":0.976},{"t":"06312","r":0.984},{"t":"06312","r":0.992},{"t":"06312","r":1.0},{"t":"06312","r":1.005},{"t":"06312","r":0.886},
{"t":"06313","r":0.95},
{"t":"06316","r":0.975},{"t":"06316","r":0.983},{"t":"06316","r":0.99},{"t":"06316","r":0.998},{"t":"06316","r":1.005},
{"t":"06319","r":1.015},{"t":"06319","r":0.922},
{"t":"06320","r":0.975},{"t":"06320","r":0.982},{"t":"06320","r":0.989},{"t":"06320","r":0.996},{"t":"06320","r":1.003},
{"t":"06400","r":0.958},{"t":"06400","r":0.966},{"t":"06400","r":0.974},{"t":"06400","r":0.982},{"t":"06400","r":0.99},{"t":"06400","r":1.0},
{"t":"06404","r":0.97},{"t":"06404","r":0.978},{"t":"06404","r":0.986},{"t":"06404","r":0.994},{"t":"06404","r":1.003},
{"t":"06407","r":1.06},{"t":"06408","r":1.212},
{"t":"06408","r":0.975},{"t":"06408","r":0.983},{"t":"06408","r":0.99},{"t":"06408","r":0.998},{"t":"06408","r":1.005},
{"t":"06412","r":0.975},{"t":"06412","r":0.983},{"t":"06412","r":0.99},{"t":"06412","r":1.0},
{"t":"06416","r":0.978},{"t":"06416","r":0.985},{"t":"06416","r":0.992},{"t":"06416","r":0.999},{"t":"06416","r":1.005},
{"t":"06420","r":0.968},{"t":"06420","r":0.976},{"t":"06420","r":0.984},{"t":"06420","r":0.992},{"t":"06420","r":1.0},{"t":"06420","r":1.01},{"t":"06420","r":0.875},
{"t":"06423","r":1.08},{"t":"06423","r":1.072},{"t":"06423","r":1.064},{"t":"06423","r":1.056},{"t":"06423","r":1.048},{"t":"06423","r":1.04},{"t":"06423","r":1.032},{"t":"06423","r":1.024},{"t":"06423","r":1.016},{"t":"06423","r":1.008},{"t":"06423","r":0.975},{"t":"06423","r":0.985},{"t":"06423","r":0.995},{"t":"06423","r":0.955},{"t":"06423","r":0.946},{"t":"06423","r":0.938},{"t":"06423","r":0.93},{"t":"06423","r":0.918},
{"t":"06503","r":0.88},
{"t":"06504","r":0.97},{"t":"06504","r":0.978},{"t":"06504","r":0.986},{"t":"06504","r":0.994},{"t":"06504","r":1.003},{"t":"06504","r":1.012},
{"t":"06509","r":1.08},{"t":"06509","r":1.072},{"t":"06509","r":1.064},{"t":"06509","r":1.056},{"t":"06509","r":1.048},{"t":"06509","r":1.04},{"t":"06509","r":1.032},{"t":"06509","r":1.024},{"t":"06509","r":1.016},{"t":"06509","r":1.008},{"t":"06509","r":1.0},{"t":"06509","r":0.992},{"t":"06509","r":0.984},{"t":"06509","r":0.976},{"t":"06509","r":0.968},{"t":"06509","r":0.96},{"t":"06509","r":0.952},{"t":"06509","r":0.944},{"t":"06509","r":0.936},{"t":"06509","r":0.928},{"t":"06509","r":0.92},{"t":"06509","r":0.909},
{"t":"06512","r":0.962},{"t":"06512","r":0.97},{"t":"06512","r":0.977},{"t":"06512","r":0.985},{"t":"06512","r":0.992},
{"t":"06515","r":1.109},
{"t":"06516","r":0.965},{"t":"06516","r":0.972},{"t":"06516","r":0.98},{"t":"06516","r":0.988},{"t":"06516","r":0.995},
{"t":"06520","r":0.965},{"t":"06520","r":0.972},{"t":"06520","r":0.979},{"t":"06520","r":0.986},{"t":"06520","r":0.993},{"t":"06520","r":1.0},{"t":"06520","r":1.212},
{"t":"06523","r":0.884},
{"t":"06600","r":0.968},{"t":"06600","r":0.976},{"t":"06600","r":0.984},{"t":"06600","r":0.993},{"t":"06600","r":1.002},
{"t":"06604","r":0.965},{"t":"06604","r":0.973},{"t":"06604","r":0.981},{"t":"06604","r":0.989},{"t":"06604","r":0.998},{"t":"06604","r":1.067},
{"t":"06605","r":1.018},{"t":"06607","r":0.888},
{"t":"06608","r":0.968},{"t":"06608","r":0.976},{"t":"06608","r":0.984},{"t":"06608","r":0.992},{"t":"06608","r":1.0},{"t":"06608","r":1.105},
{"t":"06612","r":0.965},{"t":"06612","r":0.973},{"t":"06612","r":0.981},{"t":"06612","r":0.989},{"t":"06612","r":0.998},
{"t":"06613","r":0.911},
{"t":"06616","r":0.965},{"t":"06616","r":0.972},{"t":"06616","r":0.98},{"t":"06616","r":0.988},{"t":"06616","r":0.995},{"t":"06616","r":0.905},
{"t":"06619","r":0.899},
{"t":"06620","r":0.968},{"t":"06620","r":0.975},{"t":"06620","r":0.983},{"t":"06620","r":0.99},{"t":"06620","r":0.998},
{"t":"06621","r":1.015},{"t":"06621","r":0.898},
{"t":"06700","r":0.962},{"t":"06700","r":0.97},{"t":"06700","r":0.978},{"t":"06700","r":0.986},{"t":"06700","r":0.995},
{"t":"06704","r":0.965},{"t":"06704","r":0.973},{"t":"06704","r":0.981},{"t":"06704","r":0.989},{"t":"06704","r":0.998},{"t":"06704","r":0.941},
{"t":"06705","r":1.148},
{"t":"06707","r":0.985},{"t":"06707","r":0.995},{"t":"06707","r":1.005},
{"t":"06709","r":0.995},{"t":"06709","r":1.003},{"t":"06709","r":1.011},{"t":"06709","r":1.02},
{"t":"06710","r":0.789},{"t":"06710","r":0.767},
{"t":"06711","r":1.01},{"t":"06711","r":1.018},{"t":"06711","r":1.026},{"t":"06711","r":1.035},
{"t":"06713","r":1.02},{"t":"06713","r":1.028},{"t":"06713","r":1.036},{"t":"06713","r":1.045},
{"t":"06715","r":1.035},{"t":"06715","r":1.045},{"t":"06715","r":1.055},
{"t":"06717","r":1.043},{"t":"06717","r":1.05},{"t":"06717","r":1.058},{"t":"06717","r":1.065},
{"t":"06720","r":1.045},{"t":"06720","r":1.052},{"t":"06720","r":1.059},{"t":"06720","r":1.065},
{"t":"06723","r":1.048},{"t":"06723","r":1.055},{"t":"06723","r":1.062},{"t":"06723","r":1.068},
{"t":"06802","r":1.045},{"t":"06802","r":1.053},{"t":"06802","r":1.061},{"t":"06802","r":1.07},{"t":"06802","r":1.21},
{"t":"06804","r":1.045},{"t":"06804","r":1.053},{"t":"06804","r":1.061},{"t":"06804","r":1.069},{"t":"06804","r":1.077},{"t":"06804","r":1.085},{"t":"06804","r":1.094},{"t":"06804","r":1.106},{"t":"06804","r":0.957},
{"t":"06805","r":1.05},{"t":"06805","r":1.06},{"t":"06805","r":1.07},{"t":"06805","r":1.08},
{"t":"03500","r":1.004},{"t":"03500","r":1.012},{"t":"03500","r":1.02},{"t":"03500","r":1.028},{"t":"03500","r":1.036},
{"t":"03504","r":1.004},{"t":"03504","r":1.012},{"t":"03504","r":1.02},{"t":"03504","r":1.028},{"t":"03504","r":1.036},
{"t":"03508","r":1.004},{"t":"03508","r":1.012},{"t":"03508","r":1.02},{"t":"03508","r":1.028},{"t":"03508","r":1.036},
{"t":"03512","r":1.004},{"t":"03512","r":1.012},{"t":"03512","r":1.02},{"t":"03512","r":1.028},{"t":"03512","r":1.036},
{"t":"03516","r":1.004},{"t":"03516","r":1.012},{"t":"03516","r":1.02},{"t":"03516","r":1.028},{"t":"03516","r":1.036},{"t":"03516","r":1.044},
{"t":"03520","r":1.004},{"t":"03520","r":1.012},{"t":"03520","r":1.02},{"t":"03520","r":1.028},{"t":"03520","r":1.036},{"t":"03520","r":1.044},
{"t":"03600","r":0.995},{"t":"03600","r":1.003},{"t":"03600","r":1.011},{"t":"03600","r":1.019},{"t":"03600","r":1.027},{"t":"03600","r":1.035},
{"t":"03604","r":1.004},{"t":"03604","r":1.011},{"t":"03604","r":1.018},{"t":"03604","r":1.025},{"t":"03604","r":1.032},
{"t":"03608","r":1.0},{"t":"03608","r":1.006},{"t":"03608","r":1.013},{"t":"03608","r":1.02},{"t":"03608","r":1.027},
{"t":"03612","r":0.99},{"t":"03612","r":0.998},{"t":"03612","r":1.006},{"t":"03612","r":1.013},{"t":"03612","r":1.02},{"t":"03612","r":1.028},
{"t":"03616","r":0.995},{"t":"03616","r":1.002},{"t":"03616","r":1.01},{"t":"03616","r":1.018},{"t":"03616","r":1.026},
{"t":"03620","r":0.993},{"t":"03620","r":1.0},{"t":"03620","r":1.007},{"t":"03620","r":1.014},{"t":"03620","r":1.021},{"t":"03620","r":1.028},
{"t":"03700","r":0.994},{"t":"03700","r":1.001},{"t":"03700","r":1.008},{"t":"03700","r":1.016},{"t":"03700","r":1.024},{"t":"03700","r":1.031},
{"t":"03704","r":0.994},{"t":"03704","r":1.002},{"t":"03704","r":1.01},{"t":"03704","r":1.017},
{"t":"03708","r":0.994},{"t":"03708","r":1.002},{"t":"03708","r":1.01},{"t":"03708","r":1.018},
{"t":"03712","r":0.989},{"t":"03712","r":0.997},{"t":"03712","r":1.004},{"t":"03712","r":1.011},{"t":"03712","r":1.018},
{"t":"03716","r":0.984},{"t":"03716","r":0.992},{"t":"03716","r":1.0},{"t":"03716","r":1.008},
{"t":"03720","r":0.979},{"t":"03720","r":0.987},{"t":"03720","r":0.994},{"t":"03720","r":1.002},{"t":"03720","r":1.009},
{"t":"03800","r":0.975},{"t":"03800","r":0.982},{"t":"03800","r":0.99},{"t":"03800","r":0.997},
{"t":"03804","r":0.969},{"t":"03804","r":0.977},{"t":"03804","r":0.984},{"t":"03804","r":0.992},
{"t":"03903","r":0.932},{"t":"03903","r":0.94},{"t":"03903","r":0.948},{"t":"03903","r":0.956},{"t":"03903","r":0.964},
{"t":"03907","r":0.934},{"t":"03907","r":0.942},{"t":"03907","r":0.95},{"t":"03907","r":0.958},
{"t":"03911","r":0.932},{"t":"03911","r":0.94},{"t":"03911","r":0.948},{"t":"03911","r":0.956},
{"t":"03915","r":0.932},{"t":"03915","r":0.94},{"t":"03915","r":0.948},{"t":"03915","r":0.956},
{"t":"03919","r":0.936},{"t":"03919","r":0.944},{"t":"03919","r":0.952},{"t":"03919","r":0.96},
{"t":"03923","r":0.939},{"t":"03923","r":0.947},{"t":"03923","r":0.954},{"t":"03923","r":0.962},
{"t":"04003","r":0.94},{"t":"04003","r":0.948},{"t":"04003","r":0.956},{"t":"04003","r":0.964},
{"t":"04007","r":0.94},{"t":"04007","r":0.948},{"t":"04007","r":0.956},{"t":"04007","r":0.964},
{"t":"04011","r":0.939},{"t":"04011","r":0.947},{"t":"04011","r":0.955},{"t":"04011","r":0.962},
{"t":"04015","r":0.942},{"t":"04015","r":0.95},{"t":"04015","r":0.958},{"t":"04015","r":0.966},
{"t":"04019","r":0.944},{"t":"04019","r":0.952},{"t":"04019","r":0.96},{"t":"04019","r":0.968},
{"t":"04023","r":0.944},{"t":"04023","r":0.951},{"t":"04023","r":0.958},{"t":"04023","r":0.965},{"t":"04023","r":0.971},
{"t":"04103","r":0.946},{"t":"04103","r":0.954},{"t":"04103","r":0.962},{"t":"04103","r":0.97},
{"t":"04107","r":0.945},{"t":"04107","r":0.953},{"t":"04107","r":0.96},{"t":"04107","r":0.967},{"t":"04107","r":0.973},
{"t":"04111","r":0.944},{"t":"04111","r":0.952},{"t":"04111","r":0.96},{"t":"04111","r":0.968},
{"t":"04115","r":0.944},{"t":"04115","r":0.951},{"t":"04115","r":0.958},{"t":"04115","r":0.965},{"t":"04115","r":0.972},
{"t":"04119","r":0.949},{"t":"04119","r":0.957},{"t":"04119","r":0.965},{"t":"04119","r":0.974},
{"t":"04123","r":0.944},{"t":"04123","r":0.952},{"t":"04123","r":0.96},{"t":"04123","r":0.968},
{"t":"04203","r":0.939},{"t":"04203","r":0.947},{"t":"04203","r":0.955},{"t":"04203","r":0.964},
{"t":"04207","r":0.939},{"t":"04207","r":0.947},{"t":"04207","r":0.955},{"t":"04207","r":0.962},
{"t":"04211","r":0.937},{"t":"04211","r":0.945},{"t":"04211","r":0.953},{"t":"04211","r":0.961},
{"t":"04215","r":0.939},{"t":"04215","r":0.947},{"t":"04215","r":0.955},{"t":"04215","r":0.964},
{"t":"04219","r":0.939},{"t":"04219","r":0.947},{"t":"04219","r":0.955},{"t":"04219","r":0.964},
{"t":"04223","r":0.939},{"t":"04223","r":0.946},{"t":"04223","r":0.953},{"t":"04223","r":0.96},{"t":"04223","r":0.966},
{"t":"04303","r":0.942},{"t":"04303","r":0.95},{"t":"04303","r":0.957},{"t":"04303","r":0.964},
{"t":"04307","r":0.935},{"t":"04307","r":0.944},{"t":"04307","r":0.952},{"t":"04307","r":0.961},
{"t":"04311","r":0.936},{"t":"04311","r":0.944},{"t":"04311","r":0.952},{"t":"04311","r":0.961},
{"t":"04315","r":0.939},{"t":"04315","r":0.946},{"t":"04315","r":0.953},{"t":"04315","r":0.96},{"t":"04315","r":0.966},
{"t":"04319","r":0.937},{"t":"04319","r":0.944},{"t":"04319","r":0.952},{"t":"04319","r":0.96},{"t":"04319","r":0.968},
{"t":"04323","r":0.938},{"t":"04323","r":0.947},{"t":"04323","r":0.955},{"t":"04323","r":0.964},
{"t":"04403","r":0.944},{"t":"04403","r":0.952},{"t":"04403","r":0.96},{"t":"04403","r":0.968},
{"t":"04407","r":0.939},{"t":"04407","r":0.947},{"t":"04407","r":0.955},{"t":"04407","r":0.963},{"t":"04407","r":0.971},
{"t":"04411","r":0.939},{"t":"04411","r":0.947},{"t":"04411","r":0.955},{"t":"04411","r":0.963},{"t":"04411","r":0.971},
{"t":"04415","r":0.942},{"t":"04415","r":0.95},{"t":"04415","r":0.958},{"t":"04415","r":0.966},
{"t":"04419","r":0.944},{"t":"04419","r":0.951},{"t":"04419","r":0.958},{"t":"04419","r":0.964},
{"t":"04507","r":0.944},{"t":"04507","r":0.952},{"t":"04507","r":0.959},{"t":"04507","r":0.966},{"t":"04507","r":0.974},
{"t":"04511","r":0.944},{"t":"04511","r":0.952},{"t":"04511","r":0.96},{"t":"04511","r":0.968},{"t":"04511","r":0.976},
{"t":"04515","r":0.946},{"t":"04515","r":0.954},{"t":"04515","r":0.962},{"t":"04515","r":0.97},
{"t":"04519","r":0.948},{"t":"04519","r":0.955},{"t":"04519","r":0.962},{"t":"04519","r":0.969},
{"t":"04607","r":0.942},{"t":"04607","r":0.949},{"t":"04607","r":0.956},{"t":"04607","r":0.962},
{"t":"04611","r":0.944},{"t":"04611","r":0.951},{"t":"04611","r":0.958},{"t":"04611","r":0.965},
{"t":"04615","r":0.949},{"t":"04615","r":0.957},{"t":"04615","r":0.965},{"t":"04615","r":0.973},{"t":"04615","r":0.98},{"t":"04615","r":0.987},
{"t":"04619","r":0.949},{"t":"04619","r":0.957},{"t":"04619","r":0.965},{"t":"04619","r":0.973},{"t":"04619","r":0.981},{"t":"04619","r":0.989},{"t":"04619","r":0.996},
{"t":"04623","r":0.949},{"t":"04623","r":0.956},{"t":"04623","r":0.964},{"t":"04623","r":0.971},{"t":"04623","r":0.979},{"t":"04623","r":0.986},
{"t":"04703","r":0.951},{"t":"04703","r":0.958},{"t":"04703","r":0.966},{"t":"04703","r":0.974},{"t":"04703","r":0.982},
{"t":"04707","r":0.948},{"t":"04707","r":0.956},{"t":"04707","r":0.964},{"t":"04707","r":0.971},{"t":"04707","r":0.979},
{"t":"04711","r":0.951},{"t":"04711","r":0.958},{"t":"04711","r":0.966},{"t":"04711","r":0.974},{"t":"04711","r":0.982},
{"t":"04715","r":0.948},{"t":"04715","r":0.955},{"t":"04715","r":0.962},{"t":"04715","r":0.969},{"t":"04715","r":0.977},
{"t":"04719","r":0.949},{"t":"04719","r":0.957},{"t":"04719","r":0.965},{"t":"04719","r":0.974},
{"t":"04723","r":0.949},{"t":"04723","r":0.957},{"t":"04723","r":0.965},{"t":"04723","r":0.974},
{"t":"04803","r":0.946},{"t":"04803","r":0.954},{"t":"04803","r":0.962},{"t":"04803","r":0.971},
{"t":"04807","r":0.949},{"t":"04807","r":0.957},{"t":"04807","r":0.964},{"t":"04807","r":0.972},
{"t":"04811","r":0.946},{"t":"04811","r":0.953},{"t":"04811","r":0.961},{"t":"04811","r":0.969},{"t":"04811","r":0.976},
{"t":"04815","r":0.948},{"t":"04815","r":0.956},{"t":"04815","r":0.964},{"t":"04815","r":0.972},
{"t":"04819","r":0.949},{"t":"04819","r":0.957},{"t":"04819","r":0.965},{"t":"04819","r":0.974},
{"t":"04823","r":0.949},{"t":"04823","r":0.957},{"t":"04823","r":0.965},{"t":"04823","r":0.973},{"t":"04823","r":0.981},{"t":"04823","r":0.99},
{"t":"04903","r":0.945},{"t":"04903","r":0.952},{"t":"04903","r":0.96},{"t":"04903","r":0.967},{"t":"04903","r":0.974},{"t":"04903","r":0.981},
{"t":"04907","r":0.949},{"t":"04907","r":0.957},{"t":"04907","r":0.965},{"t":"04907","r":0.974},
{"t":"04911","r":0.946},{"t":"04911","r":0.954},{"t":"04911","r":0.962},{"t":"04911","r":0.971},
{"t":"04915","r":0.948},{"t":"04915","r":0.955},{"t":"04915","r":0.962},{"t":"04915","r":0.969},{"t":"04915","r":0.977},
{"t":"04919","r":0.949},{"t":"04919","r":0.957},{"t":"04919","r":0.965},{"t":"04919","r":0.972},{"t":"04919","r":0.98},{"t":"04919","r":0.987},
{"t":"04923","r":0.944},{"t":"04923","r":0.951},{"t":"04923","r":0.959},{"t":"04923","r":0.967},{"t":"04923","r":0.974},
{"t":"05003","r":0.946},{"t":"05003","r":0.953},{"t":"05003","r":0.961},{"t":"05003","r":0.968},{"t":"05003","r":0.976},
{"t":"05007","r":0.944},{"t":"05007","r":0.951},{"t":"05007","r":0.959},{"t":"05007","r":0.967},{"t":"05007","r":0.974},{"t":"05007","r":0.982},
{"t":"05011","r":0.944},{"t":"05011","r":0.952},{"t":"05011","r":0.96},{"t":"05011","r":0.968},{"t":"05011","r":0.976},{"t":"05011","r":0.984},{"t":"05011","r":0.991},
{"t":"05015","r":0.939},{"t":"05015","r":0.947},{"t":"05015","r":0.955},{"t":"05015","r":0.963},{"t":"05015","r":0.971},{"t":"05015","r":0.979},{"t":"05015","r":0.987},
{"t":"05019","r":0.934},{"t":"05019","r":0.942},{"t":"05019","r":0.95},{"t":"05019","r":0.958},{"t":"05019","r":0.966},{"t":"05019","r":0.972},
{"t":"05023","r":0.924},{"t":"05023","r":0.932},{"t":"05023","r":0.94},{"t":"05023","r":0.948},{"t":"05023","r":0.956},{"t":"05023","r":0.963},
{"t":"05103","r":0.919},{"t":"05103","r":0.927},{"t":"05103","r":0.935},{"t":"05103","r":0.943},{"t":"05103","r":0.951},{"t":"05103","r":0.959},
{"t":"05107","r":0.919},{"t":"05107","r":0.927},{"t":"05107","r":0.935},{"t":"05107","r":0.943},{"t":"05107","r":0.951},
{"t":"05111","r":0.926},{"t":"05111","r":0.934},{"t":"05111","r":0.942},{"t":"05111","r":0.95},{"t":"05111","r":0.958},
{"t":"05115","r":0.939},{"t":"05115","r":0.946},{"t":"05115","r":0.954},{"t":"05115","r":0.962},{"t":"05115","r":0.97},
{"t":"05119","r":0.944},{"t":"05119","r":0.951},{"t":"05119","r":0.958},{"t":"05119","r":0.965},{"t":"05119","r":0.971},
{"t":"05123","r":0.946},{"t":"05123","r":0.954},{"t":"05123","r":0.962},{"t":"05123","r":0.97},
{"t":"05203","r":0.948},{"t":"05203","r":0.955},{"t":"05203","r":0.962},{"t":"05203","r":0.969},
{"t":"05207","r":0.943},{"t":"05207","r":0.95},{"t":"05207","r":0.957},{"t":"05207","r":0.964},{"t":"05207","r":0.971},
{"t":"05211","r":0.946},{"t":"05211","r":0.953},{"t":"05211","r":0.961},{"t":"05211","r":0.968},
{"t":"05215","r":0.944},{"t":"05215","r":0.951},{"t":"05215","r":0.958},{"t":"05215","r":0.965},{"t":"05215","r":0.971},
{"t":"05219","r":0.949},{"t":"05219","r":0.957},{"t":"05219","r":0.965},{"t":"05219","r":0.972},{"t":"05219","r":0.979},{"t":"05219","r":0.986},
{"t":"05907","r":0.989},{"t":"05907","r":0.997},{"t":"05907","r":1.005},{"t":"05907","r":1.013},{"t":"05907","r":1.021},{"t":"05907","r":1.03},
{"t":"05911","r":0.989},{"t":"05911","r":0.997},{"t":"05911","r":1.004},{"t":"05911","r":1.011},{"t":"05911","r":1.019},{"t":"05911","r":1.027},
{"t":"05915","r":0.992},{"t":"05915","r":1.0},{"t":"05915","r":1.008},{"t":"05915","r":1.016},{"t":"05915","r":1.024},{"t":"05915","r":1.033},
{"t":"05919","r":0.994},{"t":"05919","r":1.002},{"t":"05919","r":1.01},{"t":"05919","r":1.018},{"t":"05919","r":1.026},{"t":"05919","r":1.034},
{"t":"05923","r":0.991},{"t":"05923","r":0.998},{"t":"05923","r":1.005},{"t":"05923","r":1.012},{"t":"05923","r":1.02},{"t":"05923","r":1.027},
{"t":"06003","r":0.988},{"t":"06003","r":0.995},{"t":"06003","r":1.003},{"t":"06003","r":1.01},{"t":"06003","r":1.017},
{"t":"06007","r":0.986},{"t":"06007","r":0.994},{"t":"06007","r":1.002},{"t":"06007","r":1.01},
{"t":"06011","r":0.986},{"t":"06011","r":0.994},{"t":"06011","r":1.002},{"t":"06011","r":1.011},
{"t":"06015","r":0.989},{"t":"06015","r":0.997},{"t":"06015","r":1.004},{"t":"06015","r":1.012},
{"t":"06019","r":0.984},{"t":"06019","r":0.992},{"t":"06019","r":1.0},{"t":"06019","r":1.008},
{"t":"06023","r":0.986},{"t":"06023","r":0.994},{"t":"06023","r":1.002},{"t":"06023","r":1.01},
{"t":"06103","r":0.989},{"t":"06103","r":0.997},{"t":"06103","r":1.005},{"t":"06103","r":1.013},{"t":"06103","r":1.021},
{"t":"06107","r":0.982},{"t":"06107","r":0.99},{"t":"06107","r":0.998},{"t":"06107","r":1.006},{"t":"06107","r":1.015},
{"t":"06111","r":0.984},{"t":"06111","r":0.992},{"t":"06111","r":1.0},{"t":"06111","r":1.008},
{"t":"06115","r":0.989},{"t":"06115","r":0.997},{"t":"06115","r":1.005},{"t":"06115","r":1.013},
{"t":"06119","r":0.989},{"t":"06119","r":0.997},{"t":"06119","r":1.005},{"t":"06119","r":1.015},
{"t":"06123","r":0.991},{"t":"06123","r":0.999},{"t":"06123","r":1.006},{"t":"06123","r":1.014},
{"t":"06210","r":0.984},{"t":"06210","r":0.992},{"t":"06210","r":0.999},{"t":"06210","r":1.006},{"t":"06210","r":1.012},
{"t":"06214","r":0.981},{"t":"06214","r":0.988},{"t":"06214","r":0.995},{"t":"06214","r":1.002},
{"t":"06218","r":0.979},{"t":"06218","r":0.986},{"t":"06218","r":0.994},{"t":"06218","r":1.001},
{"t":"06222","r":0.979},{"t":"06222","r":0.987},{"t":"06222","r":0.994},{"t":"06222","r":1.002},
{"t":"06302","r":0.979},{"t":"06302","r":0.987},{"t":"06302","r":0.995},{"t":"06302","r":1.004},
{"t":"06306","r":0.979},{"t":"06306","r":0.987},{"t":"06306","r":0.994},{"t":"06306","r":1.001},
{"t":"06310","r":0.972},{"t":"06310","r":0.98},{"t":"06310","r":0.988},{"t":"06310","r":0.996},{"t":"06310","r":1.003},
{"t":"06314","r":0.972},{"t":"06314","r":0.98},{"t":"06314","r":0.988},{"t":"06314","r":0.995},{"t":"06314","r":1.002},
{"t":"06318","r":0.978},{"t":"06318","r":0.986},{"t":"06318","r":0.993},{"t":"06318","r":1.0},
{"t":"06322","r":0.962},{"t":"06322","r":0.97},{"t":"06322","r":0.978},{"t":"06322","r":0.986},{"t":"06322","r":0.995},
{"t":"06402","r":0.974},{"t":"06402","r":0.982},{"t":"06402","r":0.99},{"t":"06402","r":0.998},
{"t":"06406","r":0.979},{"t":"06406","r":0.987},{"t":"06406","r":0.994},{"t":"06406","r":1.001},
{"t":"06410","r":0.979},{"t":"06410","r":0.987},{"t":"06410","r":0.995},
{"t":"06414","r":0.981},{"t":"06414","r":0.988},{"t":"06414","r":0.995},{"t":"06414","r":1.002},
{"t":"06418","r":0.972},{"t":"06418","r":0.98},{"t":"06418","r":0.988},{"t":"06418","r":0.996},{"t":"06418","r":1.005},
{"t":"06502","r":0.974},{"t":"06502","r":0.982},{"t":"06502","r":0.99},{"t":"06502","r":0.998},{"t":"06502","r":1.007},
{"t":"06514","r":0.966},{"t":"06514","r":0.974},{"t":"06514","r":0.981},{"t":"06514","r":0.988},
{"t":"06518","r":0.968},{"t":"06518","r":0.976},{"t":"06518","r":0.984},{"t":"06518","r":0.991},{"t":"06518","r":0.998},
{"t":"06522","r":0.969},{"t":"06522","r":0.977},{"t":"06522","r":0.985},{"t":"06522","r":0.993},
{"t":"06602","r":0.969},{"t":"06602","r":0.977},{"t":"06602","r":0.985},{"t":"06602","r":0.993},
{"t":"06606","r":0.972},{"t":"06606","r":0.98},{"t":"06606","r":0.988},{"t":"06606","r":0.996},
{"t":"06610","r":0.969},{"t":"06610","r":0.977},{"t":"06610","r":0.985},{"t":"06610","r":0.994},
{"t":"06614","r":0.969},{"t":"06614","r":0.976},{"t":"06614","r":0.984},{"t":"06614","r":0.991},
{"t":"06618","r":0.968},{"t":"06618","r":0.976},{"t":"06618","r":0.984},{"t":"06618","r":0.992},
{"t":"06622","r":0.966},{"t":"06622","r":0.974},{"t":"06622","r":0.982},{"t":"06622","r":0.99},
{"t":"06702","r":0.969},{"t":"06702","r":0.977},{"t":"06702","r":0.985},{"t":"06702","r":0.993},
{"t":"06706","r":0.975},{"t":"06706","r":0.985},{"t":"06706","r":0.995},
{"t":"06708","r":0.99},{"t":"06708","r":0.999},{"t":"06708","r":1.008},
{"t":"06710","r":1.0},{"t":"06710","r":1.008},{"t":"06710","r":1.016},{"t":"06710","r":1.025},
{"t":"06712","r":1.015},{"t":"06712","r":1.023},{"t":"06712","r":1.031},{"t":"06712","r":1.04},
{"t":"06714","r":1.028},{"t":"06714","r":1.036},{"t":"06714","r":1.045},{"t":"06714","r":1.052},
{"t":"06716","r":1.04},{"t":"06716","r":1.048},{"t":"06716","r":1.056},{"t":"06716","r":1.062},
{"t":"06719","r":1.047},{"t":"06719","r":1.055},{"t":"06719","r":1.062},
{"t":"06722","r":1.05},{"t":"06722","r":1.058},{"t":"06722","r":1.065},
{"t":"06801","r":1.048},{"t":"06801","r":1.056},{"t":"06801","r":1.064},
{"t":"06803","r":1.049},{"t":"06803","r":1.057},{"t":"06803","r":1.065},{"t":"06803","r":1.073},{"t":"06803","r":1.082}
]},
"layer": [
{"mark": {"type": "point", "shape": "triangle-up", "filled": true, "size": 36, "color": "black", "opacity": 1, "clip": true},
 "encoding": {
  "x": {"field": "t", "type": "temporal",
   "scale": {"domain": [{"year": 1900, "month": 1, "date": 30, "hours": 2}, {"year": 1900, "month": 3, "date": 12, "hours": 6, "minutes": 30}]},
   "axis": {"values": [{"year": 1900, "month": 2, "date": 4}, {"year": 1900, "month": 2, "date": 11}, {"year": 1900, "month": 2, "date": 18}, {"year": 1900, "month": 2, "date": 25}, {"year": 1900, "month": 3, "date": 4}, {"year": 1900, "month": 3, "date": 11}],
    "format": "%d/%m", "grid": false, "domain": false, "ticks": true, "tickSize": -12, "tickColor": "black", "tickWidth": 1.2,
    "labelPadding": 34, "labelBaseline": "alphabetic", "labelFontSize": 22, "labelColor": "black", "labelFont": "Liberation Sans", "labelFlush": false, "labelOverlap": false,
    "title": "time", "titleFont": "Liberation Sans", "titleFontSize": 34, "titleFontWeight": "normal", "titleColor": "black", "titleX": 1245, "titleY": 54, "titleAlign": "right", "titleBaseline": "alphabetic"}},
  "y": {"field": "r", "type": "quantitative",
   "scale": {"domain": [0.75, 1.25], "nice": false, "zero": false},
   "axis": {"orient": "left", "values": [0.75, 0.8, 0.85, 0.9, 0.95, 1, 1.05, 1.1, 1.15, 1.2, 1.25], "format": "~g",
    "grid": true, "gridColor": "black", "gridDash": [1.2, 2.1], "gridWidth": 1, "gridOpacity": 1,
    "domain": false, "ticks": true, "tickSize": -34, "tickColor": "black", "tickWidth": 1.2,
    "labelPadding": 45, "labelFontSize": 22, "labelColor": "black", "labelFont": "Liberation Sans", "labelFlush": false, "labelOverlap": false,
    "title": "ratio 6/1", "titleFont": "Liberation Sans", "titleFontSize": 37, "titleFontWeight": "normal", "titleColor": "black",
    "titleX": -92, "titleY": -7, "titleAlign": "right", "titleBaseline": "alphabetic", "titleAngle": -90}}
 }},
{"mark": {"type": "point", "opacity": 0},
 "encoding": {
  "y": {"field": "r", "type": "quantitative",
   "axis": {"orient": "left", "values": [0.76,0.77,0.78,0.79,0.81,0.82,0.83,0.84,0.86,0.87,0.88,0.89,0.91,0.92,0.93,0.94,0.96,0.97,0.98,0.99,1.01,1.02,1.03,1.04,1.06,1.07,1.08,1.09,1.11,1.12,1.13,1.14,1.16,1.17,1.18,1.19,1.21,1.22,1.23,1.24],
    "labels": false, "grid": false, "domain": false, "ticks": true, "tickSize": -17, "tickColor": "black", "tickWidth": 1.2, "title": null}}
 }}
],
"resolve": {"axis": {"y": "independent"}}
}
